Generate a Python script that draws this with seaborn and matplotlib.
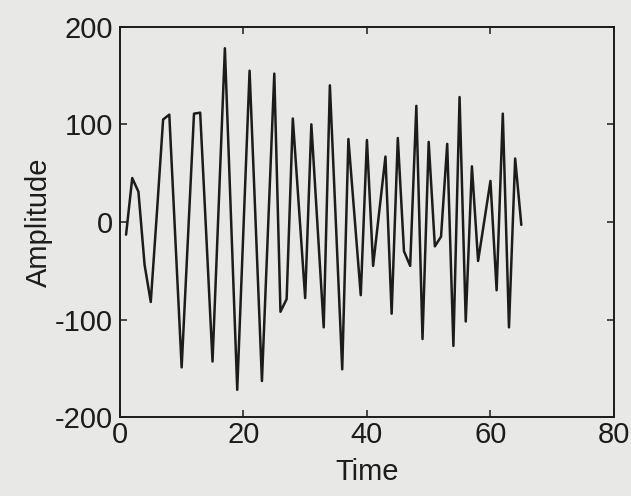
import matplotlib
matplotlib.use("Agg")
import matplotlib.pyplot as plt
import seaborn as sns
import pandas as pd

# sample index and amplitude
time = list(range(1, 66))
amplitude = [
    -13, 45, 31, -44, -82, 10, 105, 110, -20, -149,
    -19, 111, 112, -15, -143, 17, 178, 3, -172, -8,
    155, -4, -163, -5, 152, -92, -79, 106, 14, -78,
    100, -4, -108, 140, -5, -151, 85, 5, -75, 84,
    -45, 11, 67, -94, 86, -30, -45, 119, -120, 82,
    -25, -15, 80, -127, 128, -102, 57, -40, 1, 42,
    -70, 111, -108, 65, -3,
]
x_ticks = [0, 20, 40, 60, 80]
y_ticks = [-200, -100, 0, 100, 200]

df = pd.DataFrame({"Time": time, "Amplitude": amplitude})

sns.set_style("ticks")
plt.rcParams["font.family"] = ["Liberation Sans", "DejaVu Sans"]
plt.rcParams["axes.unicode_minus"] = False  # MATLAB-style hyphen minus

bg = "#e8e8e6"
ink = "#1c1c1c"
fig = plt.figure(figsize=(6.31, 4.96), dpi=100, facecolor=bg)
ax = fig.add_axes([0.190, 0.159, 0.783, 0.787], facecolor=bg)

sns.lineplot(data=df, x="Time", y="Amplitude", ax=ax, color=ink, linewidth=1.8)

ax.set_xlim(0, 80)
ax.set_ylim(-200, 200)
ax.set_xticks(x_ticks)
ax.set_yticks(y_ticks)
ax.tick_params(direction="in", length=5, width=1.1, top=True, right=True,
               labelsize=21, colors=ink)
ax.tick_params(axis="x", pad=3)
ax.tick_params(axis="y", pad=5)
for s in ax.spines.values():
    s.set_linewidth(1.4)
    s.set_color(ink)

ax.set_xlabel("Time", fontsize=21, color=ink, labelpad=6)
ax.set_ylabel("Amplitude", fontsize=21, color=ink, labelpad=1)

fig.savefig("out.png", dpi=100, facecolor=bg)
